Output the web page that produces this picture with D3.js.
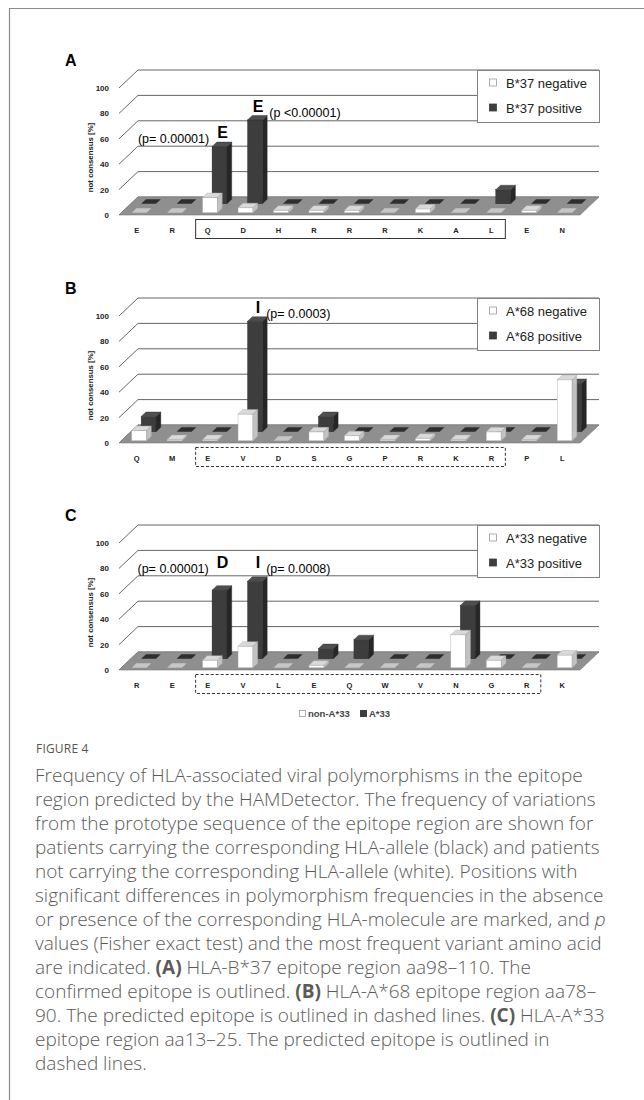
<!DOCTYPE html>
<html><head><meta charset="utf-8">
<script src="https://cdn.jsdelivr.net/npm/d3@7"></script>
<style>body{margin:0;background:#fff;} svg{display:block}</style>
</head><body>
<svg id="c" width="644" height="1100"></svg>
<script>
// ---------- DATA ----------
const catsA = ["E","R","Q","D","H","R","R","R","K","A","L","E","N"];
const negA  = [0,0,12,4,2,2,2,0,3,0,0,2,0];
const posA  = [0,0,45,66,0,0,0,0,0,0,11,0,0];

const catsB = ["Q","M","E","V","D","S","G","P","R","K","R","P","L"];
const negB  = [8,1,1,21,0,7,4,1,2,1,7,1,48];
const posB  = [12,0,0,87,0,12,0,0,0,0,0,0,38];

const catsC = ["R","E","E","V","L","E","Q","W","V","N","G","R","K"];
const negC  = [0,0,6,17,0,2,0,0,0,26,6,0,10];
const posC  = [0,0,54,61,0,8,15,0,0,42,0,0,0];

const yTicks = [0,20,40,60,80,100];
const legendA = ["B*37 negative","B*37 positive"];
const legendB = ["A*68 negative","A*68 positive"];
const legendC = ["A*33 negative","A*33 positive"];

// epitope ranges (category index first..last)
const epiA = [2,10], epiB = [2,10], epiC = [2,11];

// annotations: category index, residue letter, label level (%), p text, side
const annA = [{cat:2,letter:"E",level:61,p:"(p= 0.00001)",side:"left"},
              {cat:3,letter:"E",level:81,p:"(p <0.00001)",side:"right"}];
const annB = [{cat:3,letter:"I",level:102,p:"(p= 0.0003)",side:"right"}];
const annC = [{cat:2,letter:"D",level:80,p:"(p= 0.00001)",side:"left"},
              {cat:3,letter:"I",level:80,p:"(p= 0.0008)",side:"right"}];

const captionTitle = "FIGURE 4";
const captionLines = [
 [["Frequency of HLA-associated viral polymorphisms in the epitope",""]],
 [["region predicted by the HAMDetector. The frequency of variations",""]],
 [["from the prototype sequence of the epitope region are shown for",""]],
 [["patients carrying the corresponding HLA-allele (black) and patients",""]],
 [["not carrying the corresponding HLA-allele (white). Positions with",""]],
 [["significant differences in polymorphism frequencies in the absence",""]],
 [["or presence of the corresponding HLA-molecule are marked, and ",""],["p","i"]],
 [["values (Fisher exact test) and the most frequent variant amino acid",""]],
 [["are indicated. ",""],["(A)","b"],[" HLA-B*37 epitope region aa98\u2013110. The",""]],
 [["confirmed epitope is outlined. ",""],["(B)","b"],[" HLA-A*68 epitope region aa78\u2013",""]],
 [["90. The predicted epitope is outlined in dashed lines. ",""],["(C)","b"],[" HLA-A*33",""]],
 [["epitope region aa13\u201325. The predicted epitope is outlined in",""]],
 [["dashed lines.",""]]
];

// ---------- LAYOUT ----------
const svg = d3.select("#c");
const FONT = "'Liberation Sans', Arial, sans-serif";
const DX = 19, DY = -18;          // 3D depth vector
const panels = [
  {label:"A", y0:215, cats:catsA, neg:negA, pos:posA, legend:legendA, epi:epiA, dashed:false, ann:annA},
  {label:"B", y0:443, cats:catsB, neg:negB, pos:posB, legend:legendB, epi:epiB, dashed:true,  ann:annB},
  {label:"C", y0:670, cats:catsC, neg:negC, pos:posC, legend:legendC, epi:epiC, dashed:true,  ann:annC}
];

// frame
svg.append("line").attr("x1",9.5).attr("x2",644).attr("y1",8.5).attr("y2",8.5).attr("stroke","#8c8c8c").attr("stroke-width",1.2);
svg.append("line").attr("x1",9.5).attr("x2",9.5).attr("y1",8).attr("y2",1100).attr("stroke","#8c8c8c").attr("stroke-width",1.2);

const x = d3.scaleBand().domain(d3.range(13)).range([119,580]).padding(0);
const bw = x.bandwidth();
const barW = bw*0.42;
const [xL, xR] = x.range();

panels.forEach(P => {
  const y = d3.scaleLinear().domain([0,100]).range([P.y0, P.y0-127]);
  const g = svg.append("g");

  // panel letter
  g.append("text").attr("x",65).attr("y",P.y0-149).text(P.label)
    .attr("font-family",FONT).attr("font-weight","bold").attr("font-size",16).attr("fill","#000");

  // side wall and back wall gridlines
  yTicks.forEach(v => {
    g.append("line").attr("x1",xL).attr("y1",y(v)).attr("x2",xL+DX).attr("y2",y(v)+DY)
      .attr("stroke","#555").attr("stroke-width",0.9);
    g.append("line").attr("x1",xL+DX).attr("y1",y(v)+DY).attr("x2",xR+DX).attr("y2",y(v)+DY)
      .attr("stroke","#555").attr("stroke-width",0.9);
  });

  // floor
  const fl = [[xL,y(0)],[xR,y(0)],[xR+DX,y(0)+DY],[xL+DX,y(0)+DY]];
  g.append("polygon").attr("points",fl.map(p=>p.join(",")).join(" "))
    .attr("fill","#8f8f8f").attr("stroke","#7a7a7a").attr("stroke-width",0.6);

  // bars
  function drawBar(ci, v, row){
    const f0 = row*0.5 + 0.125;
    const ox = f0*DX, oy = f0*DY, ddx = 0.25*DX, ddy = 0.25*DY;
    const cx = x(ci)+bw/2+ox, xl = cx-barW/2, xr = cx+barW/2;
    const yb = y(0)+oy, yt = y(v)+oy;
    const dark = row===1;
    const col = dark ? {front:"#3d3d3d", side:"#262626", top:"#4f4f4f", flat:"#2e2e2e", st:"#2a2a2a"}
                     : {front:"#ffffff", side:"#c2c2c2", top:"#d9d9d9", flat:"#c6c6c6", st:"#a8a8a8"};
    const top = [[xl,yt],[xr,yt],[xr+ddx,yt+ddy],[xl+ddx,yt+ddy]];
    if (v > 0) {
      const side = [[xr,yb],[xr,yt],[xr+ddx,yt+ddy],[xr+ddx,yb+ddy]];
      g.append("rect").attr("x",xl).attr("y",yt).attr("width",barW).attr("height",yb-yt)
        .attr("fill",col.front).attr("stroke",col.st).attr("stroke-width",0.4);
      g.append("polygon").attr("points",side.map(p=>p.join(",")).join(" "))
        .attr("fill",col.side).attr("stroke",col.st).attr("stroke-width",0.4);
      g.append("polygon").attr("points",top.map(p=>p.join(",")).join(" "))
        .attr("fill",col.top).attr("stroke",col.st).attr("stroke-width",0.4);
    } else {
      g.append("polygon").attr("points",top.map(p=>p.join(",")).join(" "))
        .attr("fill",col.flat);
    }
  }
  P.pos.forEach((v,i)=>drawBar(i,v,1));
  P.neg.forEach((v,i)=>drawBar(i,v,0));

  // y axis labels
  const ya = g.append("g").attr("transform",`translate(109,0)`)
    .call(d3.axisLeft(y).tickValues(yTicks).tickSize(0).tickPadding(0));
  ya.select(".domain").remove();
  ya.selectAll("text").attr("font-family",FONT).attr("font-weight","bold").attr("font-size",8).attr("fill","#222");

  // y axis title
  g.append("text").attr("transform",`translate(93,${(y(0)+y(100))/2+6}) rotate(-90)`)
    .attr("text-anchor","middle").text("not consensus [%]")
    .attr("font-family",FONT).attr("font-weight","bold").attr("font-size",7.8).attr("fill","#222");

  // x axis labels
  const xa = g.append("g").attr("transform",`translate(0,${P.y0+9.5})`)
    .call(d3.axisBottom(x).tickFormat(i=>P.cats[i]).tickSize(0).tickPadding(3));
  xa.select(".domain").remove();
  xa.selectAll("text").attr("font-family",FONT).attr("font-weight","bold").attr("font-size",7.5).attr("fill","#222");

  // epitope box
  const bx0 = x(P.epi[0])+bw/2-12, bx1 = x(P.epi[1])+bw/2+14;
  g.append("rect").attr("x",bx0).attr("y",P.y0+4.5).attr("width",bx1-bx0).attr("height",19)
    .attr("fill","none").attr("stroke","#333").attr("stroke-width",1)
    .attr("stroke-dasharray",P.dashed?"3,2":null);

  // legend
  const lx = 477, ly = y(100)+DY, lw = xR+DX-lx, lh = 52;
  g.append("rect").attr("x",lx+0.5).attr("y",ly+0.5).attr("width",lw).attr("height",lh)
    .attr("fill","#fff").attr("stroke","#808080").attr("stroke-width",1);
  P.legend.forEach((t,i)=>{
    const yy = ly+13+i*25;
    g.append("rect").attr("x",489.5).attr("y",yy-4).attr("width",7).attr("height",7)
      .attr("fill",i?"#3d3d3d":"#fff").attr("stroke",i?"#3d3d3d":"#999").attr("stroke-width",0.8);
    g.append("text").attr("x",506).attr("y",yy+4.5).text(t)
      .attr("font-family",FONT).attr("font-size",13).attr("fill","#222");
  });

  // annotations
  P.ann.forEach(a=>{
    const cx = x(a.cat)+bw/2+0.625*DX+3;
    const by = y(a.level);
    const lt = g.append("text").attr("x",cx).attr("y",by).attr("text-anchor","middle").text(a.letter)
      .attr("font-family",FONT).attr("font-weight","bold").attr("font-size",16).attr("fill","#000");
    const lwid = lt.node().getComputedTextLength();
    if (a.side==="left") {
      g.append("text").attr("x",cx-lwid/2-8).attr("y",by+5).attr("text-anchor","end").text(a.p)
        .attr("font-family",FONT).attr("font-size",12.5).attr("fill","#000");
    } else {
      g.append("text").attr("x",cx+lwid/2+6).attr("y",by+5).attr("text-anchor","start").text(a.p)
        .attr("font-family",FONT).attr("font-size",12.5).attr("fill","#000");
    }
  });
});

// bottom legend
const bl = svg.append("g").attr("transform","translate(299,717)");
bl.append("rect").attr("x",0.5).attr("y",-6.5).attr("width",6).attr("height",6).attr("fill","#fff").attr("stroke","#999").attr("stroke-width",0.8);
bl.append("text").attr("x",9).attr("y",0).text("non-A*33").attr("font-family",FONT).attr("font-weight","bold").attr("font-size",9.5).attr("fill","#444");
bl.append("rect").attr("x",61).attr("y",-7).attr("width",7).attr("height",7).attr("fill","#3d3d3d");
bl.append("text").attr("x",70).attr("y",0).text("A*33").attr("font-family",FONT).attr("font-weight","bold").attr("font-size",9.5).attr("fill","#444");

// caption
const CF = "'Open Sans', 'Noto Sans', sans-serif";
svg.append("text").attr("x",36).attr("y",753).text(captionTitle)
  .attr("font-family",CF).attr("font-size",12).attr("fill","#555").attr("letter-spacing",0.2);
captionLines.forEach((line,i)=>{
  const t = svg.append("text").attr("x",35).attr("y",782+i*24)
    .attr("font-family",CF).attr("font-size",19).attr("fill","#5a5a5a").attr("font-weight",300);
  line.forEach(([s,st])=>{
    const ts = t.append("tspan").text(s);
    if (st==="b") ts.attr("font-weight","bold");
    if (st==="i") ts.attr("font-style","italic");
  });
});
</script>
</body></html>
